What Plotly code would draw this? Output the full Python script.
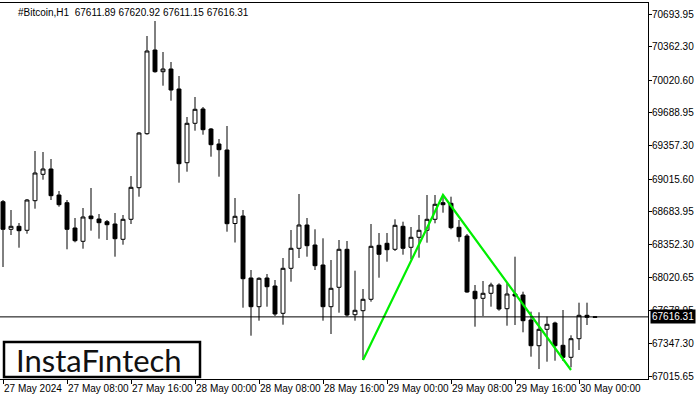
import plotly.graph_objects as go
import pandas as pd

times = pd.date_range("2024-05-27 00:00", periods=75, freq="h")

opens = [68786.7, 68506.3, 68536.8, 68496.2, 68796.9, 69065.1, 69119.0, 68854.8, 68776.6, 68519.5,
         68384.3, 68641.4, 68610.9, 68583.5, 68560.1, 68404.7, 68607.9, 68929.0, 69477.7, 70328.1,
         70107.7, 70135.1, 69931.9, 69183.0, 69583.3, 69728.7, 69525.4, 69373.0, 69312.0, 68565.2,
         68641.4, 68011.4, 67719.8, 68011.4, 67930.2, 67652.8, 68110.0, 68313.2, 68550.0, 68346.8,
         68143.5, 67719.8, 67916.9, 68303.1, 67638.5, 67679.2, 67795.0, 68343.7, 68364.0, 68303.1,
         68536.8, 68323.4, 68425.0, 68496.2, 68607.9, 68776.6, 68770.5, 68526.6, 68438.2, 67876.3,
         67805.2, 67856.0, 67940.3, 67699.5, 67848.9, 67838.7, 67584.7, 67323.5, 67490.2, 67554.2,
         67327.6, 67205.7, 67394.7, 67632.4, 67611.89]
highs = [68804.0, 68702.4, 68570.3, 68814.2, 69301.9, 69291.7, 69220.6, 68895.4, 68804.0, 68621.1,
         68722.7, 68925.9, 68661.7, 68600.8, 68671.9, 68651.6, 69047.9, 69491.9, 70470.4, 70622.8,
         70307.8, 70206.2, 70064.0, 69647.4, 69850.6, 69749.0, 69535.6, 69423.8, 69555.9, 68824.3,
         68702.4, 68092.7, 68018.6, 68052.1, 67991.1, 68214.7, 68499.2, 68865.0, 68621.1, 68506.3,
         68414.8, 68194.3, 68397.6, 68387.4, 68085.6, 67899.7, 68560.1, 68468.7, 68468.7, 68607.9,
         68583.5, 68529.7, 68651.6, 68854.8, 68854.8, 68854.8, 68837.5, 68600.8, 68458.5, 67940.3,
         67981.0, 67963.7, 67957.6, 67957.6, 68227.9, 67872.2, 67669.0, 67662.9, 67618.2, 67567.4,
         67686.3, 67429.2, 67760.5, 67760.5, 67620.92]
lows = [68123.2, 68448.4, 68319.3, 68461.6, 68715.6, 69010.3, 68804.0, 68735.9, 68303.1, 68374.2,
        68309.2, 68492.1, 68410.8, 68397.6, 68227.9, 68349.8, 68560.1, 68837.5, 69467.5, 70097.5,
        69965.4, 69813.0, 68979.8, 69091.6, 69508.2, 69467.5, 69244.0, 69040.8, 68481.9, 68372.2,
        67709.7, 67425.2, 67577.6, 67719.8, 67625.3, 67536.9, 67973.8, 68214.7, 68227.9, 68092.7,
        67577.6, 67442.4, 67658.9, 67618.2, 67577.6, 67178.2, 67770.6, 68014.5, 68177.1, 68285.8,
        68248.2, 68201.5, 68217.7, 68370.1, 68567.3, 68675.0, 68506.3, 68380.3, 67862.1, 67516.6,
        67625.3, 67719.8, 67679.2, 67526.8, 67533.9, 67459.7, 67211.8, 67086.8, 67161.0, 67171.1,
        67168.1, 67104.1, 67279.8, 67533.9, 67611.15]
closes = [68506.3, 68536.8, 68492.1, 68804.0, 69078.3, 69119.0, 68847.7, 68756.2, 68506.3, 68390.4,
          68631.3, 68614.0, 68573.3, 68553.0, 68410.8, 68607.9, 68933.0, 69484.8, 70318.0, 70107.7,
          70135.1, 69921.7, 69172.8, 69583.3, 69725.6, 69518.3, 69365.9, 69315.1, 68563.2, 68638.4,
          68004.3, 67719.8, 68008.4, 67923.0, 67645.6, 68110.0, 68313.2, 68550.0, 68339.6, 68136.4,
          67719.8, 67906.8, 68303.1, 67635.5, 67683.2, 67795.0, 68333.5, 68252.3, 68299.0, 68546.9,
          68313.2, 68425.0, 68496.2, 68607.9, 68760.3, 68756.2, 68522.5, 68431.1, 67869.2, 67801.1,
          67856.0, 67940.3, 67696.5, 67848.9, 67828.5, 67577.6, 67323.5, 67490.2, 67541.0, 67323.5,
          67205.7, 67394.7, 67632.4, 67612.1, 67616.31]

# Pattern (green) line: trough, peak, trough
pattern_times = ["2024-05-28 21:00", "2024-05-29 07:00", "2024-05-29 23:00"]
pattern_prices = [67178.2, 68854.8, 67076.6]

last_price = 67616.31
title_text = "#Bitcoin,H1  67611.89 67620.92 67611.15 67616.31"

y_ticks = [70693.95, 70362.30, 70020.60, 69688.95, 69357.30, 69015.60,
           68683.95, 68352.30, 68020.65, 67678.95, 67347.30, 67015.65]
y_tick_text = ["%.2f" % v for v in y_ticks]

x_tick_times = ["2024-05-27 00:00", "2024-05-27 08:00", "2024-05-27 16:00", "2024-05-28 00:00",
                "2024-05-28 08:00", "2024-05-28 16:00", "2024-05-29 00:00", "2024-05-29 08:00",
                "2024-05-29 16:00", "2024-05-30 00:00"]
x_tick_text = ["27 May 2024", "27 May 08:00", "27 May 16:00", "28 May 00:00", "28 May 08:00",
               "28 May 16:00", "29 May 00:00", "29 May 08:00", "29 May 16:00", "30 May 00:00"]

FONT = "Liberation Sans, Arial, sans-serif"

fig = go.Figure()
fig.add_trace(go.Candlestick(
    x=times, open=opens, high=highs, low=lows, close=closes,
    increasing=dict(line=dict(color="black", width=1), fillcolor="white"),
    decreasing=dict(line=dict(color="black", width=1), fillcolor="black"),
    whiskerwidth=0, showlegend=False, hoverinfo="skip",
))
fig.add_trace(go.Scatter(
    x=pattern_times, y=pattern_prices, mode="lines",
    line=dict(color="#00ee00", width=2.2), showlegend=False, hoverinfo="skip",
))

fig.add_hline(y=last_price, line=dict(color="black", width=1))

t0 = pd.Timestamp("2024-05-27 00:00")
x_range = [t0 - pd.Timedelta(minutes=22.5), t0 + pd.Timedelta(hours=80, minutes=37.5)]

fig.update_layout(
    width=700, height=400,
    margin=dict(l=0, r=52, t=3, b=21, autoexpand=False),
    paper_bgcolor="white", plot_bgcolor="white",
    font=dict(family=FONT, size=10, color="black"),
    showlegend=False,
    xaxis=dict(
        type="date", range=x_range, rangeslider=dict(visible=False),
        automargin=False,
        showgrid=False, zeroline=False,
        showline=True, linecolor="black", linewidth=1, mirror=True,
        tickmode="array", tickvals=x_tick_times, ticktext=x_tick_text,
        tickangle=0,
        ticks="outside", ticklen=4, tickcolor="black", tickwidth=1,
        ticklabelposition="outside right",
        tickfont=dict(family=FONT, size=10, color="#000000"),
    ),
    yaxis=dict(
        side="right", range=[66985.2, 70805.7],
        automargin=False,
        showgrid=False, zeroline=False,
        showline=True, linecolor="black", linewidth=1,
        tickmode="array", tickvals=y_ticks, ticktext=y_tick_text,
        ticks="outside", ticklen=3, tickcolor="black", tickwidth=1,
        ticklabelstandoff=-2,
        tickfont=dict(family=FONT, size=10, color="#000000"),
    ),
)

# Title text at top-left
fig.add_annotation(
    xref="paper", yref="paper", x=0, y=1, xanchor="left", yanchor="top",
    xshift=16, yshift=-2, text=title_text, showarrow=False,
    font=dict(family=FONT, size=10, color="black"),
)

# Current price label
fig.add_annotation(
    xref="paper", yref="y", x=1, y=last_price, xanchor="left", yanchor="middle",
    xshift=2, text="%.2f" % last_price, showarrow=False,
    bgcolor="black", borderpad=1,
    font=dict(family=FONT, size=10, color="white"),
)

# Logo box
fig.add_shape(
    type="rect", xref="paper", yref="paper",
    x0=4 / 648, x1=200 / 648, y0=2 / 376, y1=37 / 376,
    line=dict(color="black", width=2.5), fillcolor="white", layer="above",
)
fig.add_annotation(
    xref="paper", yref="paper", x=99 / 648, y=19.5 / 376, xanchor="center", yanchor="middle",
    text="InstaF\u0131ntech", showarrow=False,
    font=dict(family="Lato, Inter, sans-serif", size=31, color="#111111"),
)

fig.write_html(
    "out.html",
    config={"displayModeBar": False},
    post_script="document.body.style.margin='0px';document.body.style.padding='0px';",
)
